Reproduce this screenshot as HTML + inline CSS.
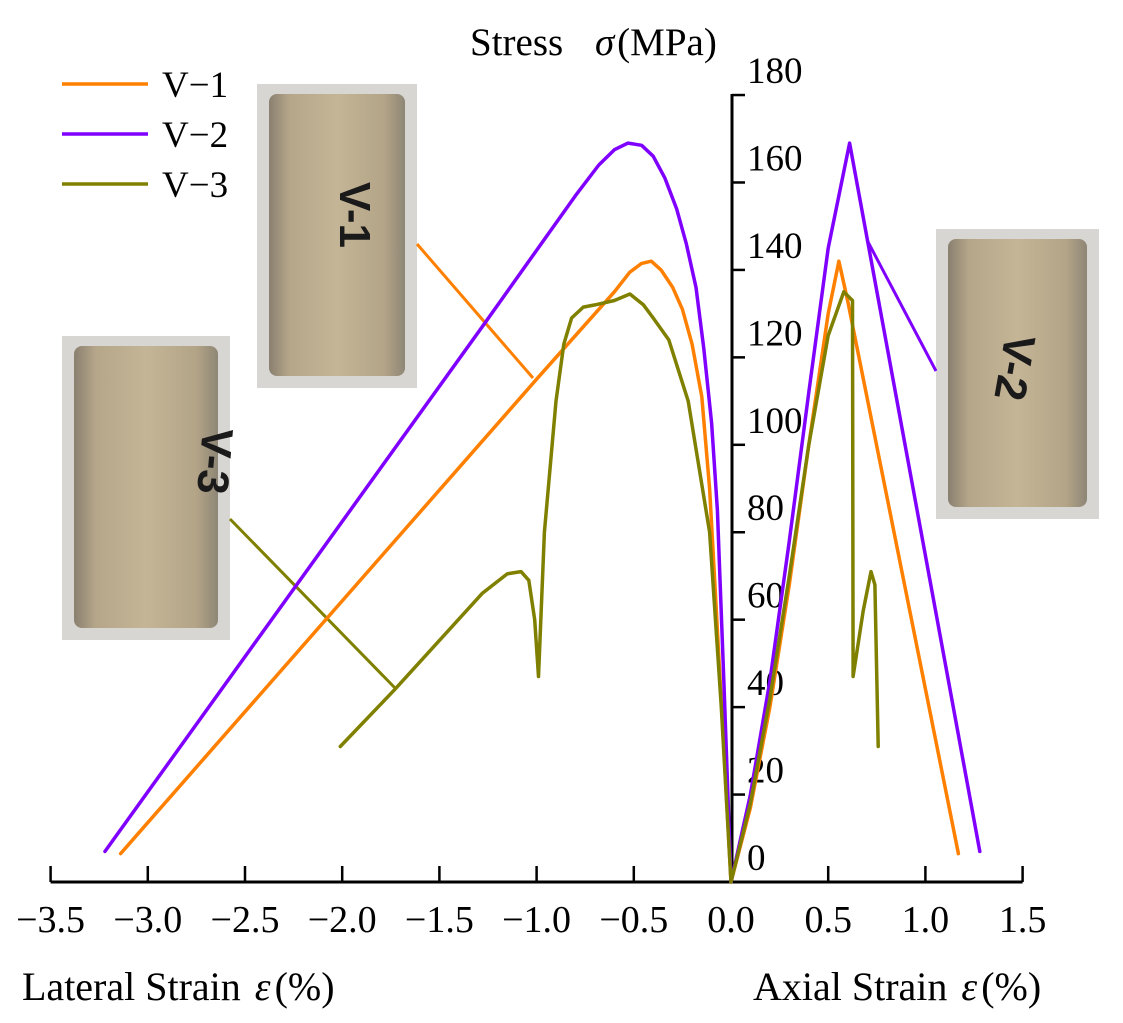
<!DOCTYPE html>
<html><head><meta charset="utf-8"><style>
body{margin:0;background:#fff}
svg{display:block;font-family:"Liberation Serif",serif}
</style></head><body>
<svg id="chart" width="1123" height="1023" viewBox="0 0 1123 1023">
<defs>
<linearGradient id="rock" x1="0" x2="1" y1="0" y2="0">
<stop offset="0" stop-color="#8a8070"/><stop offset="0.15" stop-color="#b5a68a"/><stop offset="0.5" stop-color="#c4b596"/><stop offset="0.85" stop-color="#b3a487"/><stop offset="1" stop-color="#8e8676"/>
</linearGradient>
</defs>
<g id="photos"></g>
<g id="axes"></g>
<g id="series"></g>
<g id="legend"></g>
</svg>
<script>
const xTicks=[-3.5,-3.0,-2.5,-2.0,-1.5,-1.0,-0.5,0.0,0.5,1.0,1.5];
const xTickLabels=["\u22123.5","\u22123.0","\u22122.5","\u22122.0","\u22121.5","\u22121.0","\u22120.5","0.0","0.5","1.0","1.5"];
const yTicks=[0,20,40,60,80,100,120,140,160,180];
const seriesNames=["V\u22121","V\u22122","V\u22123"];
const v1Strain=[-3.14,-1.0,-0.6,-0.52,-0.46,-0.41,-0.36,-0.3,-0.25,-0.2,-0.15,-0.11,-0.08,-0.04,0,0.1,0.2,0.3,0.4,0.5,0.555,0.6,1.17];
const v1Stress=[6.5,115,135,139.5,141.5,142,140,136,131,123,111,90,66,33,0,17,40,68,100,130,142,133,6.5];
const v2Strain=[-3.22,-1.28,-0.8,-0.68,-0.6,-0.53,-0.46,-0.4,-0.34,-0.28,-0.23,-0.18,-0.14,-0.1,-0.07,-0.036,0,0.1,0.2,0.3,0.4,0.5,0.61,1.28];
const v2Stress=[7,127,157,164,167.5,169,168.5,166,161,154,146,136,122,105,85,45,0,20,46,78,112,145,169,7];
const v3Strain=[-2.01,-1.73,-1.28,-1.15,-1.08,-1.04,-1.01,-0.99,-0.96,-0.9,-0.86,-0.82,-0.76,-0.7,-0.6,-0.52,-0.45,-0.4,-0.32,-0.22,-0.11,-0.05,0,0.1,0.2,0.3,0.4,0.5,0.58,0.625,0.628,0.68,0.72,0.74,0.757];
const v3Stress=[31,44,66,70.5,71,69,60,47,80,110,123,129,131.5,132,133,134.5,132,129,124,110,80,40,0,18,42,70,100,125,135,133,47,62,71,68,31];
const colors=["#ff8000","#8000ff","#808000"];
const NS="http://www.w3.org/2000/svg";
const X=e=>731+194.4*e;
const Y=s=>882-4.372*s;
function mk(tag,attrs,parent){const el=document.createElementNS(NS,tag);for(const k in attrs)el.setAttribute(k,attrs[k]);parent.appendChild(el);return el;}
const axes=document.getElementById('axes');
let el=mk('line',{x1:X(-3.5),x2:X(1.5),y1:882,y2:882,stroke:'#000','stroke-width':3},axes);


el=mk('line',{x1:732,x2:732,y1:883,y2:Y(180)-1,stroke:'#000','stroke-width':3},axes);


xTicks.forEach((t,i)=>{
 const tk=mk('line',{x1:X(t),x2:X(t),y1:882,y2:866,stroke:'#000','stroke-width':2.5},axes);
 
 
 const tx=mk('text',{x:X(t),y:932,'text-anchor':'middle','font-size':38},axes);
 tx.textContent=xTickLabels[i];
 
 
});
yTicks.forEach(t=>{
 if(t>0){const tk=mk('line',{x1:732,x2:745,y1:Y(t),y2:Y(t),stroke:'#000','stroke-width':2.5},axes);
 
 }
 const tx=mk('text',{x:747,y:Y(t)-12,'font-size':37},axes);
 tx.textContent=String(t);
 
 
});
el=mk('text',{x:470,y:55,'font-size':39},axes);
el.innerHTML='Stress <tspan font-style="italic" dx="22">\u03c3</tspan><tspan dx="3">(MPa)</tspan>';


el=mk('text',{x:22,y:1000,'font-size':40},axes);
el.innerHTML='Lateral Strain <tspan font-style="italic" dx="4">\u03b5</tspan><tspan dx="4">(%)</tspan>';


el=mk('text',{x:753,y:1000,'font-size':40},axes);
el.innerHTML='Axial Strain <tspan font-style="italic" dx="4">\u03b5</tspan><tspan dx="4">(%)</tspan>';



const photos=document.getElementById('photos');
function photo(x,y,w,h,label,rot,lx,ly,name){
 const g=mk('g',{},photos);
 
 
 mk('rect',{x:x,y:y,width:w,height:h,fill:'#d8d6d2'},g);
 mk('rect',{x:x+12,y:y+10,width:w-24,height:h-22,rx:8,fill:'url(#rock)'},g);
 const t=mk('text',{x:lx,y:ly,'font-size':44,'font-weight':'bold','font-family':'"Liberation Sans",sans-serif',fill:'#1a1a1a','text-anchor':'middle',transform:`rotate(${rot} ${lx} ${ly})`},g);
 t.textContent=label;
}
photo(257,84,160,304,'V-1',90,340,215,'photo-v1');
photo(62,336,168,304,'V-3',95,200,460,'photo-v3');
photo(936,229,163,290,'V-2',100,1000,365,'photo-v2');

const series=document.getElementById('series');
function leader(x1,y1,x2,y2,c,name){const l=mk('line',{x1,y1,x2,y2,stroke:c,'stroke-width':3},series);
 
 }
leader(417,244,533,378,colors[0],'leader-v1');
leader(230,519,395,688,colors[2],'leader-v3');
leader(867,240,936,371,colors[1],'leader-v2');
const all=[[v1Strain,v1Stress],[v2Strain,v2Stress],[v3Strain,v3Stress]];
all.forEach((d,i)=>{
 const pts=d[0].map((e,j)=>X(e).toFixed(1)+','+Y(d[1][j]).toFixed(1)).join(' ');
 const p=mk('polyline',{points:pts,fill:'none',stroke:colors[i],'stroke-width':3.5,'stroke-linejoin':'round','stroke-linecap':'round'},series);
 
 
});
const legend=document.getElementById('legend');
seriesNames.forEach((n,i)=>{
 const y=84+50*i;
 const l=mk('line',{x1:62,x2:148,y1:y,y2:y,stroke:colors[i],'stroke-width':3.5},legend);
 
 
 const t=mk('text',{x:162,y:y+13,'font-size':37},legend);
 t.textContent=n;
 
 
});
</script>
</body></html>
